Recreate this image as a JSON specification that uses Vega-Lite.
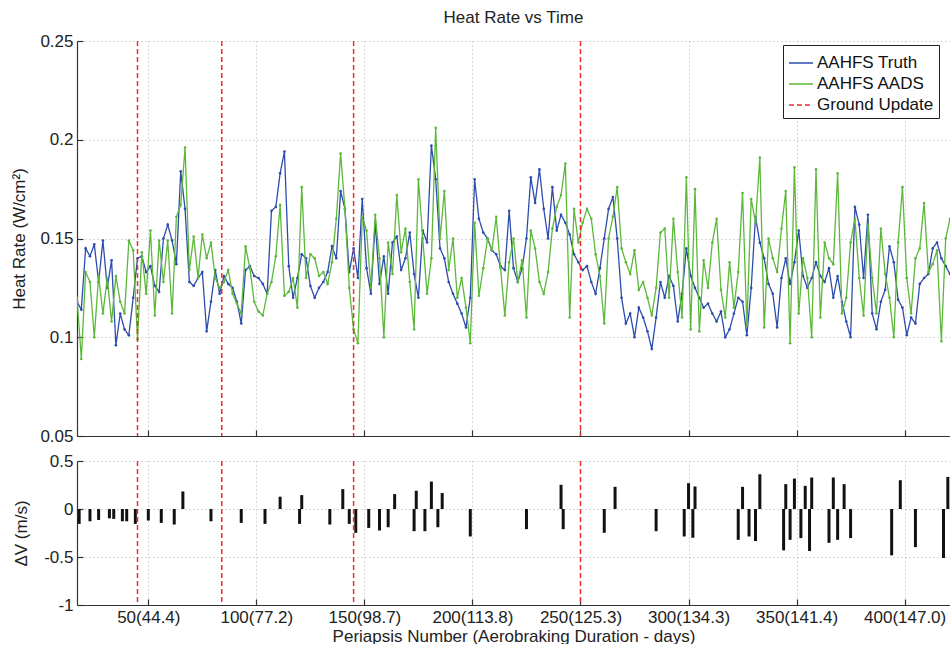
{
  "$schema": "https://vega.github.io/schema/vega-lite/v6.json",
  "padding": {"left": 10, "top": 9, "right": 0, "bottom": 0},
  "background": "white",
  "config": {
    "font": "Liberation Sans",
    "view": {"stroke": null},
    "axis": {
      "labelFontSize": 17, "titleFontSize": 17, "titleFontWeight": "normal",
      "labelColor": "#222", "titleColor": "#222",
      "domainColor": "#333", "tickColor": "#333", "domainWidth": 1.2, "tickWidth": 1.2,
      "gridColor": "#b0b0b0", "gridDash": [1, 3], "gridWidth": 1,
      "tickSize": -6, "labelPadding": 10
    },
    "concat": {"spacing": 8}
  },
  "datasets": {
    "heat": [
      {"p":17,"truth":0.118,"aads":0.120},{"p":19,"truth":0.114,"aads":0.089},{"p":21,"truth":0.145,"aads":0.133},{"p":23,"truth":0.141,"aads":0.128},
      {"p":25,"truth":0.147,"aads":0.100},{"p":27,"truth":0.128,"aads":0.131},{"p":29,"truth":0.149,"aads":0.112},{"p":31,"truth":0.125,"aads":0.130},
      {"p":33,"truth":0.139,"aads":0.108},{"p":35,"truth":0.096,"aads":0.131},{"p":37,"truth":0.112,"aads":0.118},{"p":39,"truth":0.104,"aads":0.112},
      {"p":41,"truth":0.101,"aads":0.149},{"p":43,"truth":0.120,"aads":0.144},{"p":45,"truth":0.140,"aads":0.099},{"p":47,"truth":0.141,"aads":0.143},
      {"p":49,"truth":0.133,"aads":0.122},{"p":51,"truth":0.136,"aads":0.154},{"p":53,"truth":0.126,"aads":0.111},{"p":55,"truth":0.123,"aads":0.149},
      {"p":57,"truth":0.150,"aads":0.128},{"p":59,"truth":0.157,"aads":0.149},{"p":61,"truth":0.149,"aads":0.112},{"p":63,"truth":0.137,"aads":0.161},
      {"p":65,"truth":0.184,"aads":0.167},{"p":67,"truth":0.165,"aads":0.196},{"p":69,"truth":0.128,"aads":0.134},{"p":71,"truth":0.126,"aads":0.151},
      {"p":73,"truth":0.130,"aads":0.130},{"p":75,"truth":0.133,"aads":0.152},{"p":77,"truth":0.103,"aads":0.140},{"p":79,"truth":0.118,"aads":0.148},
      {"p":81,"truth":0.134,"aads":0.130},{"p":83,"truth":0.122,"aads":0.125},{"p":85,"truth":0.131,"aads":0.128},{"p":87,"truth":0.127,"aads":0.134},
      {"p":89,"truth":0.125,"aads":0.122},{"p":91,"truth":0.118,"aads":0.117},{"p":93,"truth":0.107,"aads":0.112},{"p":95,"truth":0.134,"aads":0.146},
      {"p":97,"truth":0.136,"aads":0.135},{"p":99,"truth":0.131,"aads":0.118},{"p":101,"truth":0.130,"aads":0.113},{"p":103,"truth":0.127,"aads":0.111},
      {"p":105,"truth":0.122,"aads":0.122},{"p":107,"truth":0.164,"aads":0.128},{"p":109,"truth":0.166,"aads":0.141},{"p":111,"truth":0.183,"aads":0.167},
      {"p":113,"truth":0.194,"aads":0.121},{"p":115,"truth":0.136,"aads":0.123},{"p":117,"truth":0.120,"aads":0.130},{"p":119,"truth":0.130,"aads":0.115},
      {"p":121,"truth":0.142,"aads":0.176},{"p":123,"truth":0.140,"aads":0.130},{"p":125,"truth":0.126,"aads":0.142},{"p":127,"truth":0.120,"aads":0.140},
      {"p":129,"truth":0.125,"aads":0.131},{"p":131,"truth":0.128,"aads":0.133},{"p":133,"truth":0.133,"aads":0.127},{"p":135,"truth":0.146,"aads":0.138},
      {"p":137,"truth":0.140,"aads":0.160},{"p":139,"truth":0.174,"aads":0.193},{"p":141,"truth":0.165,"aads":0.165},{"p":143,"truth":0.133,"aads":0.125},
      {"p":145,"truth":0.145,"aads":0.104},{"p":147,"truth":0.130,"aads":0.097},{"p":149,"truth":0.170,"aads":0.161},{"p":151,"truth":0.135,"aads":0.154},
      {"p":153,"truth":0.122,"aads":0.125},{"p":155,"truth":0.158,"aads":0.162},{"p":157,"truth":0.127,"aads":0.140},{"p":159,"truth":0.141,"aads":0.100},
      {"p":161,"truth":0.122,"aads":0.148},{"p":163,"truth":0.148,"aads":0.132},{"p":165,"truth":0.151,"aads":0.172},{"p":167,"truth":0.134,"aads":0.143},
      {"p":169,"truth":0.140,"aads":0.155},{"p":171,"truth":0.153,"aads":0.128},{"p":173,"truth":0.132,"aads":0.104},{"p":175,"truth":0.120,"aads":0.180},
      {"p":177,"truth":0.154,"aads":0.150},{"p":179,"truth":0.148,"aads":0.122},{"p":181,"truth":0.197,"aads":0.140},{"p":183,"truth":0.180,"aads":0.206},
      {"p":185,"truth":0.145,"aads":0.150},{"p":187,"truth":0.140,"aads":0.174},{"p":189,"truth":0.128,"aads":0.134},{"p":191,"truth":0.122,"aads":0.150},
      {"p":193,"truth":0.117,"aads":0.120},{"p":195,"truth":0.112,"aads":0.130},{"p":197,"truth":0.105,"aads":0.115},{"p":199,"truth":0.120,"aads":0.097},
      {"p":201,"truth":0.180,"aads":0.158},{"p":203,"truth":0.160,"aads":0.121},{"p":205,"truth":0.153,"aads":0.135},{"p":207,"truth":0.150,"aads":0.150},
      {"p":209,"truth":0.144,"aads":0.144},{"p":211,"truth":0.142,"aads":0.161},{"p":213,"truth":0.136,"aads":0.135},{"p":215,"truth":0.134,"aads":0.111},
      {"p":217,"truth":0.164,"aads":0.138},{"p":219,"truth":0.135,"aads":0.150},{"p":221,"truth":0.128,"aads":0.128},{"p":223,"truth":0.135,"aads":0.139},
      {"p":225,"truth":0.150,"aads":0.110},{"p":227,"truth":0.181,"aads":0.154},{"p":229,"truth":0.168,"aads":0.145},{"p":231,"truth":0.185,"aads":0.128},
      {"p":233,"truth":0.165,"aads":0.122},{"p":235,"truth":0.150,"aads":0.133},{"p":237,"truth":0.176,"aads":0.155},{"p":239,"truth":0.154,"aads":0.166},
      {"p":241,"truth":0.162,"aads":0.172},{"p":243,"truth":0.158,"aads":0.188},{"p":245,"truth":0.152,"aads":0.110},{"p":247,"truth":0.142,"aads":0.165},
      {"p":249,"truth":0.138,"aads":0.148},{"p":251,"truth":0.134,"aads":0.158},{"p":253,"truth":0.136,"aads":0.165},{"p":255,"truth":0.128,"aads":0.160},
      {"p":257,"truth":0.122,"aads":0.142},{"p":259,"truth":0.135,"aads":0.131},{"p":261,"truth":0.150,"aads":0.107},{"p":263,"truth":0.165,"aads":0.150},
      {"p":265,"truth":0.171,"aads":0.161},{"p":267,"truth":0.150,"aads":0.176},{"p":269,"truth":0.120,"aads":0.145},{"p":271,"truth":0.107,"aads":0.138},
      {"p":273,"truth":0.112,"aads":0.132},{"p":275,"truth":0.100,"aads":0.144},{"p":277,"truth":0.115,"aads":0.124},{"p":279,"truth":0.110,"aads":0.128},
      {"p":281,"truth":0.103,"aads":0.120},{"p":283,"truth":0.094,"aads":0.111},{"p":285,"truth":0.110,"aads":0.125},{"p":287,"truth":0.128,"aads":0.153},
      {"p":289,"truth":0.120,"aads":0.155},{"p":291,"truth":0.131,"aads":0.120},{"p":293,"truth":0.126,"aads":0.160},{"p":295,"truth":0.108,"aads":0.133},
      {"p":297,"truth":0.122,"aads":0.110},{"p":299,"truth":0.145,"aads":0.181},{"p":301,"truth":0.131,"aads":0.104},{"p":303,"truth":0.125,"aads":0.175},
      {"p":305,"truth":0.120,"aads":0.103},{"p":307,"truth":0.115,"aads":0.139},{"p":309,"truth":0.117,"aads":0.125},{"p":311,"truth":0.112,"aads":0.148},
      {"p":313,"truth":0.108,"aads":0.160},{"p":315,"truth":0.113,"aads":0.124},{"p":317,"truth":0.100,"aads":0.110},{"p":319,"truth":0.104,"aads":0.138},
      {"p":321,"truth":0.112,"aads":0.115},{"p":323,"truth":0.120,"aads":0.133},{"p":325,"truth":0.118,"aads":0.173},{"p":327,"truth":0.101,"aads":0.106},
      {"p":329,"truth":0.125,"aads":0.170},{"p":331,"truth":0.161,"aads":0.158},{"p":333,"truth":0.148,"aads":0.191},{"p":335,"truth":0.140,"aads":0.105},
      {"p":337,"truth":0.127,"aads":0.150},{"p":339,"truth":0.122,"aads":0.140},{"p":341,"truth":0.105,"aads":0.133},{"p":343,"truth":0.130,"aads":0.155},
      {"p":345,"truth":0.140,"aads":0.174},{"p":347,"truth":0.127,"aads":0.097},{"p":349,"truth":0.138,"aads":0.186},{"p":351,"truth":0.154,"aads":0.112},
      {"p":353,"truth":0.131,"aads":0.140},{"p":355,"truth":0.125,"aads":0.130},{"p":357,"truth":0.130,"aads":0.100},{"p":359,"truth":0.138,"aads":0.185},
      {"p":361,"truth":0.131,"aads":0.110},{"p":363,"truth":0.128,"aads":0.148},{"p":365,"truth":0.135,"aads":0.140},{"p":367,"truth":0.120,"aads":0.137},
      {"p":369,"truth":0.131,"aads":0.183},{"p":371,"truth":0.118,"aads":0.112},{"p":373,"truth":0.108,"aads":0.120},{"p":375,"truth":0.100,"aads":0.148},
      {"p":377,"truth":0.166,"aads":0.160},{"p":379,"truth":0.157,"aads":0.130},{"p":381,"truth":0.130,"aads":0.111},{"p":383,"truth":0.162,"aads":0.157},
      {"p":385,"truth":0.112,"aads":0.130},{"p":387,"truth":0.104,"aads":0.112},{"p":389,"truth":0.118,"aads":0.155},{"p":391,"truth":0.124,"aads":0.132},
      {"p":393,"truth":0.146,"aads":0.120},{"p":395,"truth":0.138,"aads":0.100},{"p":397,"truth":0.119,"aads":0.148},{"p":399,"truth":0.115,"aads":0.176},
      {"p":401,"truth":0.101,"aads":0.130},{"p":403,"truth":0.110,"aads":0.112},{"p":405,"truth":0.107,"aads":0.140},{"p":407,"truth":0.127,"aads":0.145},
      {"p":409,"truth":0.130,"aads":0.168},{"p":411,"truth":0.132,"aads":0.133},{"p":413,"truth":0.145,"aads":0.137},{"p":415,"truth":0.148,"aads":0.144},
      {"p":417,"truth":0.140,"aads":0.098},{"p":419,"truth":0.136,"aads":0.150},{"p":421,"truth":0.132,"aads":0.160}
    ],
    "updates": [{"p":45},{"p":84},{"p":145},{"p":250}],
    "dv": [
      {"p":18,"dv":-0.155},{"p":23,"dv":-0.128},{"p":27,"dv":-0.114},{"p":32,"dv":-0.097},{"p":34,"dv":-0.103},
      {"p":38,"dv":-0.128},{"p":40,"dv":-0.128},{"p":44,"dv":-0.155},{"p":50,"dv":-0.12},{"p":56,"dv":-0.145},
      {"p":62,"dv":-0.162},{"p":66,"dv":0.183},{"p":79,"dv":-0.128},{"p":93,"dv":-0.145},{"p":104,"dv":-0.155},
      {"p":111,"dv":0.128},{"p":120,"dv":-0.155},{"p":121,"dv":0.145},{"p":134,"dv":-0.162},{"p":140,"dv":0.207},
      {"p":143,"dv":-0.155},{"p":146,"dv":-0.248},{"p":152,"dv":-0.197},{"p":157,"dv":-0.224},{"p":161,"dv":-0.19},
      {"p":164,"dv":0.155},{"p":173,"dv":-0.231},{"p":174,"dv":0.19},{"p":178,"dv":-0.231},{"p":181,"dv":0.286},
      {"p":184,"dv":-0.19},{"p":186,"dv":0.166},{"p":199,"dv":-0.286},{"p":225,"dv":-0.21},{"p":241,"dv":0.252},
      {"p":242,"dv":-0.21},{"p":261,"dv":-0.248},{"p":266,"dv":0.231},{"p":285,"dv":-0.231},{"p":298,"dv":-0.286},
      {"p":300,"dv":0.269},{"p":302,"dv":-0.3},{"p":303,"dv":0.234},{"p":323,"dv":-0.321},{"p":325,"dv":0.231},
      {"p":328,"dv":-0.286},{"p":331,"dv":-0.334},{"p":333,"dv":0.362},{"p":344,"dv":-0.431},{"p":345,"dv":0.259},
      {"p":347,"dv":-0.321},{"p":349,"dv":0.317},{"p":352,"dv":-0.303},{"p":354,"dv":0.241},{"p":356,"dv":-0.438},
      {"p":357,"dv":0.328},{"p":365,"dv":-0.352},{"p":367,"dv":0.328},{"p":369,"dv":-0.321},{"p":372,"dv":0.259},
      {"p":375,"dv":-0.303},{"p":394,"dv":-0.483},{"p":398,"dv":0.3},{"p":405,"dv":-0.397},{"p":418,"dv":-0.51},
      {"p":420,"dv":0.334}
    ]
  },
  "vconcat": [
    {
      "width": 873,
      "height": 395,
      "title": {"text": "Heat Rate vs Time", "fontSize": 17, "fontWeight": "normal", "color": "#222", "offset": 5, "anchor": "middle"},
      "layer": [
        {
          "data": {"name": "heat"},
          "mark": {"type": "line", "strokeWidth": 1.3, "clip": true, "point": {"filled": true, "size": 7}},
          "encoding": {
            "x": {"field": "p", "type": "quantitative",
                  "scale": {"domain": [17, 421], "nice": false, "zero": false},
                  "axis": {"values": [50, 100, 150, 200, 250, 300, 350, 400], "labels": false, "title": null, "grid": true}},
            "y": {"field": "truth", "type": "quantitative",
                  "scale": {"domain": [0.05, 0.25], "nice": false, "zero": false},
                  "axis": {"values": [0.05, 0.1, 0.15, 0.2, 0.25], "format": "~g", "title": "Heat Rate (W/cm²)", "titlePadding": 11, "grid": true}},
            "color": {"datum": "truth", "type": "nominal",
                      "scale": {"domain": ["truth", "aads", "ground"], "range": ["#2c4cae", "#5cb83a", "#e8312f"]},
                      "legend": {"orient": "none", "legendX": 706, "legendY": 4, "title": null,
                                 "symbolType": "stroke", "symbolSize": 576, "symbolStrokeWidth": 1.5,
                                 "labelFontSize": 17, "labelColor": "#111", "labelOffset": 3,
                                 "strokeColor": "#222", "fillColor": "white", "padding": 5, "rowPadding": 0,
                                 "labelExpr": "datum.value == 'truth' ? 'AAHFS Truth' : datum.value == 'aads' ? 'AAHFS AADS' : 'Ground Update'"}},
            "strokeDash": {"datum": "truth", "type": "nominal",
                           "scale": {"domain": ["truth", "aads", "ground"], "range": [[1, 0], [1, 0], [5, 3]]},
                           "legend": {"orient": "none", "legendX": 706, "legendY": 4, "title": null,
                                 "symbolType": "stroke", "symbolSize": 576, "symbolStrokeWidth": 1.5,
                                 "labelFontSize": 17, "labelColor": "#111", "labelOffset": 3,
                                 "strokeColor": "#222", "fillColor": "white", "padding": 5, "rowPadding": 0,
                                 "labelExpr": "datum.value == 'truth' ? 'AAHFS Truth' : datum.value == 'aads' ? 'AAHFS AADS' : 'Ground Update'"}}
          }
        },
        {
          "data": {"name": "heat"},
          "mark": {"type": "line", "strokeWidth": 1.3, "clip": true, "point": {"filled": true, "size": 7}},
          "encoding": {
            "x": {"field": "p", "type": "quantitative"},
            "y": {"field": "aads", "type": "quantitative"},
            "color": {"datum": "aads", "type": "nominal"},
            "strokeDash": {"datum": "aads", "type": "nominal"}
          }
        },
        {
          "data": {"name": "updates"},
          "mark": {"type": "rule", "strokeWidth": 1.5},
          "encoding": {
            "x": {"field": "p", "type": "quantitative"},
            "color": {"datum": "ground", "type": "nominal"},
            "strokeDash": {"datum": "ground", "type": "nominal"}
          }
        },
        {
          "mark": {"type": "rule", "color": "#e03030", "strokeWidth": 2.5},
          "encoding": {"y": {"datum": 0.17, "type": "quantitative"}}
        },
        {
          "mark": {"type": "rule", "color": "#e03030", "strokeWidth": 1.5},
          "encoding": {"y": {"datum": 0.11, "type": "quantitative"}}
        }
      ]
    },
    {
      "width": 873,
      "height": 144,
      "layer": [
        {
          "data": {"name": "dv"},
          "mark": {"type": "rule", "strokeWidth": 3, "color": "#111", "clip": true},
          "encoding": {
            "x": {"field": "p", "type": "quantitative",
                  "scale": {"domain": [17, 421], "nice": false, "zero": false},
                  "axis": {"values": [50, 100, 150, 200, 250, 300, 350, 400], "grid": true,
                           "title": "Periapsis Number (Aerobraking Duration - days)", "titlePadding": 3,
                           "labelExpr": "datum.value == 50 ? '50(44.4)' : datum.value == 100 ? '100(77.2)' : datum.value == 150 ? '150(98.7)' : datum.value == 200 ? '200(113.8)' : datum.value == 250 ? '250(125.3)' : datum.value == 300 ? '300(134.3)' : datum.value == 350 ? '350(141.4)' : '400(147.0)'"}},
            "y": {"field": "dv", "type": "quantitative",
                  "scale": {"domain": [-1, 0.5], "nice": false, "zero": false},
                  "axis": {"values": [-1, -0.5, 0, 0.5], "grid": true, "title": "ΔV (m/s)", "titlePadding": 13,
                           "labelExpr": "datum.value == -1 ? '-1' : datum.value == -0.5 ? '-0.5' : datum.value == 0 ? '0' : '0.5'"}},
            "y2": {"datum": 0}
          }
        },
        {
          "mark": {"type": "rule", "color": "#111", "strokeWidth": 1.5},
          "encoding": {"y": {"datum": 0, "type": "quantitative"}}
        },
        {
          "data": {"name": "updates"},
          "mark": {"type": "rule", "color": "#e8312f", "strokeDash": [5, 3], "strokeWidth": 1.5},
          "encoding": {"x": {"field": "p", "type": "quantitative"}}
        }
      ]
    }
  ]
}
